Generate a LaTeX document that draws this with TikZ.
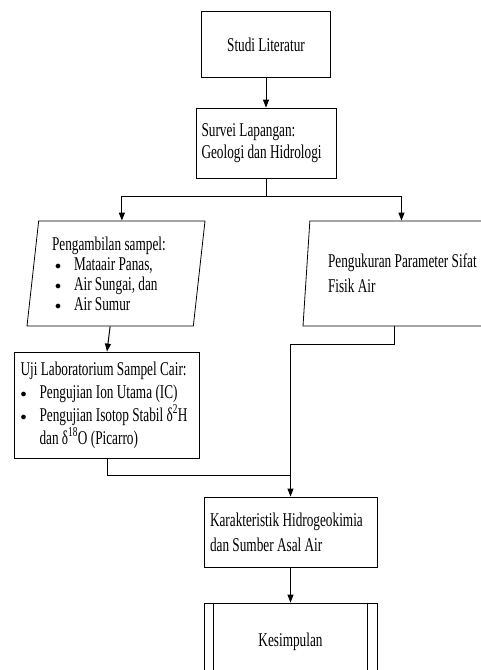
\documentclass[tikz,border=0pt]{standalone}
\usepackage{fontspec}
\setmainfont{Liberation Serif}[FakeStretch=0.68]
\usepackage{tikz}
\usetikzlibrary{shapes.geometric,arrows.meta}

\newcommand{\itm}{\makebox[19pt][l]{\raisebox{1pt}{\fontsize{13}{13}\selectfont$\bullet$}}}
\tikzset{
	huruf/.style={font=\fontsize{19.5}{22}\selectfont},
	kotak/.style={draw, line width=0.8pt, inner sep=0pt, align=flush left, huruf,
		execute at begin node={\spaceskip=0pt\xspaceskip=0pt}},
	jajar/.style={kotak, trapezium, trapezium stretches body},
	garis/.style={line width=1pt},
	panah/.style={garis, -{Triangle[length=8pt,width=6pt]}}
}

\begin{document}
\begin{tikzpicture}[x=1pt,y=-1pt]
				\useasboundingbox (0,0) rectangle (481,670);
				\clip (0,0) rectangle (481,670);
				\node[kotak, minimum width=129pt, minimum height=66pt] (studi) at (266,44.5) {Studi Literatur};
				\node[kotak, minimum width=140pt, minimum height=70pt, text width=129pt] (survei) at (266,143) {Survei Lapangan:\\ Geologi dan Hidrologi};
				\coordinate (cabang) at (266,196);
				\node[jajar, trapezium left angle=81, trapezium right angle=99, minimum width=178pt, minimum height=105pt, text width=128pt] (ambil) at (116,273.5)
					{Pengambilan sampel:\\[-2pt] \hspace*{3pt}\itm Mataair Panas,\\[-2pt] \hspace*{3pt}\itm Air Sungai, dan\\[-2pt] \hspace*{3pt}\itm Air Sumur};
				\node[jajar, trapezium left angle=80, trapezium right angle=100, minimum width=190pt, minimum height=105pt, text width=140pt] (ukur) at (398,273.5)
					{\mbox{Pengukuran Parameter Sifat}\\[3pt] Fisik Air};
				\node[kotak, minimum width=185pt, minimum height=106pt, text width=173pt] (uji) at (107,405)
					{Uji Laboratorium Sampel Cair:\\[1pt] \itm Pengujian Ion Utama (IC)\\[1pt] \itm Pengujian Isotop Stabil δ\textsuperscript{2}H\\[1pt] \hspace*{19pt}dan δ\textsuperscript{18}O (Picarro)};
				\coordinate (gabung) at (290.5,475);
				\node[kotak, minimum width=173pt, minimum height=70pt, text width=161pt] (karakter) at (290.5,532)
					{Karakteristik Hidrogeokimia\\[3pt] dan Sumber Asal Air};
				\node[kotak, minimum width=173pt, minimum height=78pt] (simpul) at (290.5,642) {Kesimpulan};
				\draw[line width=0.8pt] ([xshift=10pt]simpul.north west) -- ([xshift=10pt]simpul.south west);
				\draw[line width=0.8pt] ([xshift=-10pt]simpul.north east) -- ([xshift=-10pt]simpul.south east);

				\draw[panah] (studi.south) -- (survei.north);
				\draw[garis] (survei.south) -- (cabang);
				\draw[panah] (cabang) -| (ambil.top side);
				\draw[panah] (cabang) -| (ukur.top side);
				\draw[panah] (ambil.bottom side) -- (uji.north);
				\draw[garis] (uji.south) |- (gabung);
				\draw[panah] (ukur.bottom side) -- ++(0,18) -| (karakter.north);
				\draw[panah] (karakter.south) -- (simpul.north);
			\end{tikzpicture}
\end{document}
